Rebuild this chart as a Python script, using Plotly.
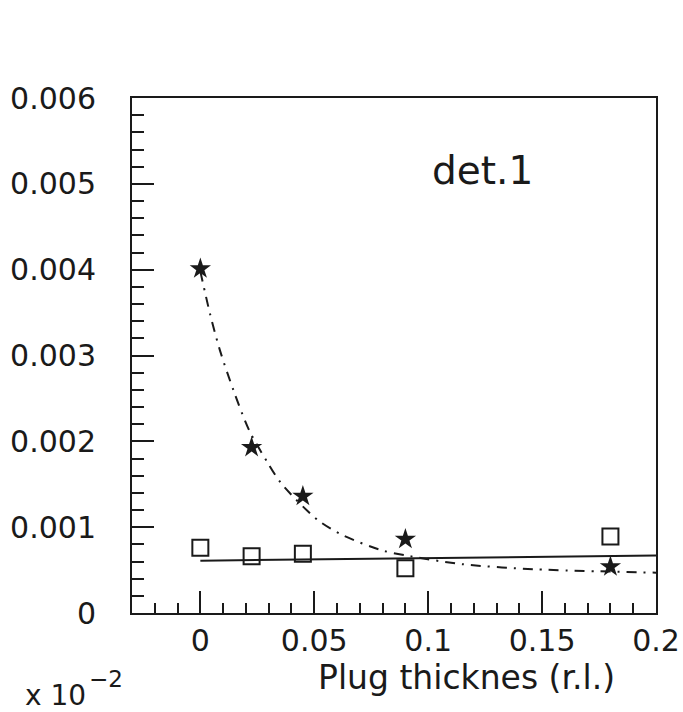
import plotly.graph_objects as go

# ---- data ----
thickness = [0.0, 0.0225, 0.045, 0.09, 0.18]
star_vals = [0.00401, 0.00193, 0.00136, 0.00086, 0.00054]
square_vals = [0.00076, 0.00066, 0.00069, 0.00052, 0.00089]

line_x = [0.0, 0.2]
line_y = [0.00061, 0.00067]

curve_x = [0.0, 0.0043, 0.0086, 0.0146, 0.0214, 0.0298, 0.0358, 0.0517,
           0.063, 0.0797, 0.0903, 0.1145, 0.1463, 0.2]
curve_y = [0.00398, 0.00348, 0.00306, 0.00259, 0.00213, 0.00174, 0.00150, 0.00108,
           0.00090, 0.00073, 0.00067, 0.00057, 0.00051, 0.00047]

x_tickvals = [0, 0.05, 0.1, 0.15, 0.2]
x_ticktext = ["0", "0.05", "0.1", "0.15", "0.2"]
y_tickvals = [0, 0.001, 0.002, 0.003, 0.004, 0.005, 0.006]
y_ticktext = ["0", "0.001", "0.002", "0.003", "0.004", "0.005", "0.006"]

INK = "#1a1a1a"
FONT = "DejaVu Sans"

fig = go.Figure()

fig.add_trace(go.Scatter(
    x=curve_x, y=curve_y, mode="lines",
    line=dict(color=INK, width=2, dash="10px,7px,2px,7px", shape="spline", smoothing=0.8),
    showlegend=False, hoverinfo="skip"))

fig.add_trace(go.Scatter(
    x=line_x, y=line_y, mode="lines",
    line=dict(color=INK, width=2),
    showlegend=False, hoverinfo="skip"))

fig.add_trace(go.Scatter(
    x=thickness, y=square_vals, mode="markers",
    marker=dict(symbol="square-open", size=16, color=INK, line=dict(width=2, color=INK)),
    showlegend=False))

fig.add_trace(go.Scatter(
    x=thickness, y=star_vals, mode="markers",
    marker=dict(symbol="star", size=16, color=INK, line=dict(width=0)),
    showlegend=False))

axis_common = dict(
    showline=True, linecolor=INK, linewidth=2, mirror=True,
    ticks="inside", tickcolor=INK, tickwidth=2, ticklen=22,
    showgrid=False, zeroline=False, automargin=False,
    tickfont=dict(family=FONT, size=30, color=INK),
)

fig.update_xaxes(
    range=[-0.03, 0.2], tickvals=x_tickvals, ticktext=x_ticktext,
    minor=dict(dtick=0.01, tick0=0, ticks="inside", ticklen=10, tickwidth=2, tickcolor=INK, showgrid=False),
    ticklabelstandoff=0,
    **axis_common)
fig.update_yaxes(
    range=[0, 0.006], tickvals=y_tickvals, ticktext=y_ticktext,
    minor=dict(dtick=0.0002, tick0=0, ticks="inside", ticklen=12, tickwidth=2, tickcolor=INK, showgrid=False),
    ticklabelstandoff=28,
    **axis_common)

W, H = 683, 712
L, R, T, B = 132, 27, 98, 99
PW, PH = W - L - R, H - T - B


def px_to_paper(xp, yp):
    return (xp - L) / PW, (H - B - yp) / PH


annots = []
ax, ay = px_to_paper(482, 170)
annots.append(dict(text="det.1", x=ax, y=ay, xref="paper", yref="paper",
                   xanchor="center", yanchor="middle", showarrow=False,
                   font=dict(family=FONT, size=39, color=INK)))
ax, ay = px_to_paper(466, 677)
annots.append(dict(text="Plug thicknes (r.l.)", x=ax, y=ay, xref="paper", yref="paper",
                   xanchor="center", yanchor="middle", showarrow=False,
                   font=dict(family=FONT, size=33, color=INK)))
ax, ay = px_to_paper(23, 695)
annots.append(dict(text="x 10", x=ax, y=ay, xref="paper", yref="paper",
                   xanchor="left", yanchor="middle", showarrow=False,
                   font=dict(family=FONT, size=28, color=INK)))
ax, ay = px_to_paper(87, 679)
annots.append(dict(text="\u22122", x=ax, y=ay, xref="paper", yref="paper",
                   xanchor="left", yanchor="middle", showarrow=False,
                   font=dict(family=FONT, size=23, color=INK)))

fig.update_layout(
    width=W, height=H, autosize=False,
    margin=dict(l=L, r=R, t=T, b=B, pad=0, autoexpand=False),
    paper_bgcolor="white", plot_bgcolor="white",
    annotations=annots,
    showlegend=False,
)

fig.write_html("out.html")
